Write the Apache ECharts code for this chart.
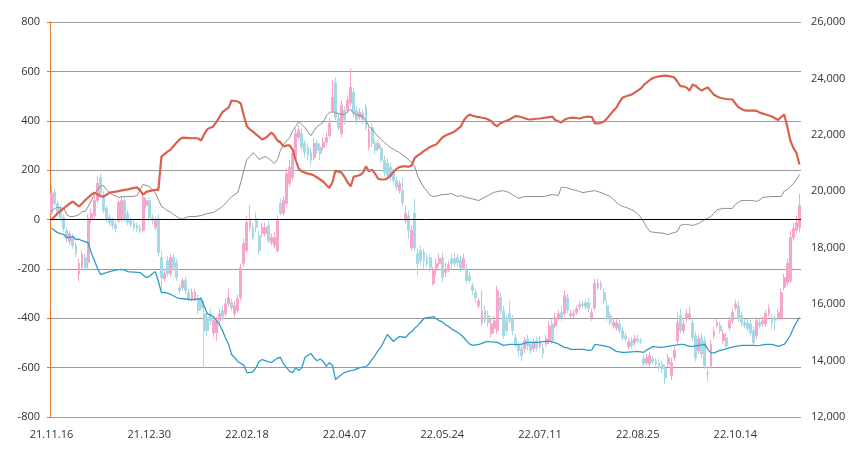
<!DOCTYPE html>
<html><head><meta charset="utf-8">
<script src="https://cdn.jsdelivr.net/npm/echarts@6/dist/echarts.min.js"></script>
<style>html,body{margin:0;padding:0;background:#fff}#c{width:862px;height:456px}</style>
</head><body><div id="c"></div>
<script>
// Korean market trading days 2021-11-16 .. 2022-11-14
const marketHolidays = ['2021-12-31','2022-01-31','2022-02-01','2022-02-02','2022-03-01','2022-03-09','2022-05-05','2022-06-01','2022-06-06','2022-08-15','2022-09-09','2022-09-12','2022-10-03','2022-10-10'];
const firstDay = [2021, 10, 16];
const lastDay = [2022, 10, 14];
function pad(n){return (n<10?'0':'')+n;}
function buildCategories(){
  const out=[];
  let t=Date.UTC(firstDay[0],firstDay[1],firstDay[2]);
  const end=Date.UTC(lastDay[0],lastDay[1],lastDay[2]);
  while(t<=end){
    const d=new Date(t);
    const wd=d.getUTCDay();
    const iso=d.getUTCFullYear()+'-'+pad(d.getUTCMonth()+1)+'-'+pad(d.getUTCDate());
    if(wd!==0&&wd!==6&&marketHolidays.indexOf(iso)<0){
      out.push(String(d.getUTCFullYear()).slice(2)+'.'+pad(d.getUTCMonth()+1)+'.'+pad(d.getUTCDate()));
    }
    t+=86400000;
  }
  return out;
}
const categories = buildCategories();

const redLine = [
0,12,25,35,45,55,65,73,62,53,
65,78,89,100,109,102,95,93,100,109,
111,113,115,118,120,122,125,128,130,118,
101,112,115,118,120,120,255,265,275,283,
298,312,325,332,331,330,329,330,328,320,
345,365,372,377,395,415,435,445,453,482,
480,478,470,420,377,365,356,345,335,324,
330,340,352,340,320,312,296,300,300,283,
240,205,195,190,186,183,178,170,162,154,
140,128,150,198,194,190,172,150,134,174,
176,180,190,215,195,202,185,165,162,162,
166,178,192,205,212,215,215,214,220,250,
260,268,278,285,294,300,304,318,332,340,
345,350,356,366,376,400,417,425,420,417,
415,412,410,405,399,385,378,390,395,400,
405,412,419,418,414,410,406,405,407,408,
409,411,413,415,417,403,398,393,404,409,
412,413,411,409,413,416,417,415,389,389,
392,397,410,425,440,453,475,493,498,502,
506,514,522,530,545,555,565,573,577,580,
582,583,582,579,575,559,540,539,535,522,
547,541,530,522,530,535,520,505,498,493,
490,488,487,486,470,455,448,442,441,441,
441,440,433,429,425,421,417,410,403,415,
425,378,320,290,270,223];

const grayLine = [
32,45,49,47,45,20,12,12,15,20,
32,32,53,75,101,120,134,138,120,109,
100,95,89,92,93,93,93,94,97,120,
142,138,134,120,109,80,53,45,35,30,
20,12,4,2,8,12,12,12,14,16,
20,24,26,28,36,44,53,65,80,93,
101,109,150,200,243,255,271,259,243,250,
255,248,238,227,243,280,304,318,332,360,
377,397,385,372,355,340,360,377,385,393,
420,433,437,433,429,427,425,438,446,429,
425,421,417,400,377,365,350,335,325,312,
302,292,285,278,271,262,252,243,230,215,
174,150,130,115,98,93,95,98,101,101,
103,105,99,93,97,93,89,86,83,80,
77,84,91,97,104,110,113,115,117,113,
109,100,93,85,90,93,93,93,93,93,
93,93,95,98,101,99,97,130,130,128,
124,120,117,113,109,111,113,115,117,113,
109,104,98,93,82,69,60,53,50,45,
40,33,22,10,-10,-32,-49,-51,-53,-54,
-55,-58,-61,-56,-53,-49,-24,-20,-20,-22,
-24,-20,-16,-8,0,6,12,25,40,42,
45,45,45,45,61,70,77,77,77,77,
76,73,80,89,91,92,93,93,93,93,
115,121,134,145,162,182];

const blueLine = [
-34,-45,-53,-57,-61,-73,-71,-69,-81,-80,
-86,-90,-95,-134,-165,-195,-223,-219,-215,-211,
-208,-205,-203,-202,-205,-211,-212,-213,-214,-215,
-225,-235,-231,-220,-211,-250,-296,-296,-298,-303,
-310,-316,-320,-321,-322,-324,-324,-324,-322,-320,
-350,-381,-387,-393,-410,-425,-450,-480,-505,-547,
-560,-575,-583,-590,-620,-620,-616,-600,-575,-567,
-572,-577,-579,-570,-562,-559,-585,-600,-615,-620,
-600,-612,-600,-560,-550,-543,-560,-572,-565,-575,
-595,-580,-590,-648,-638,-628,-620,-615,-612,-610,
-605,-600,-598,-596,-585,-567,-550,-530,-515,-490,
-466,-480,-494,-482,-474,-476,-478,-464,-454,-440,
-429,-415,-401,-398,-397,-393,-402,-410,-415,-425,
-433,-443,-450,-458,-466,-478,-492,-505,-510,-508,
-506,-502,-496,-494,-496,-497,-498,-504,-510,-508,
-506,-506,-507,-507,-505,-501,-498,-498,-498,-498,
-497,-495,-494,-494,-496,-500,-504,-512,-518,-520,
-526,-526,-526,-526,-526,-528,-530,-528,-506,-508,
-510,-512,-515,-518,-526,-534,-536,-538,-538,-537,
-536,-535,-534,-536,-538,-528,-522,-514,-516,-518,
-518,-516,-514,-512,-510,-508,-506,-506,-510,-514,
-514,-512,-510,-508,-506,-526,-540,-540,-535,-530,
-527,-524,-520,-517,-514,-512,-510,-510,-510,-510,
-510,-511,-510,-508,-506,-506,-506,-510,-514,-510,
-506,-490,-470,-440,-417,-397];

// [open, close, high, low]
const candleOCHL = [
[19210,19920,20210,19180],[19960,19570,20100,19460],[19570,19250,19670,19140],[19390,19070,19500,18960],[19070,18680,19180,18540],
[18610,18320,18720,18180],[18220,18500,18610,18110],[18390,18080,18500,17970],[18080,17790,18180,17680],[17080,17440,17610,16800],
[17290,17760,17900,17190],[17650,17290,17790,17190],[17470,19030,19180,17260],[19030,19210,19390,18890],[19140,19670,19820,19030],
[19670,20280,20560,19570],[20490,19920,20630,19820],[19850,19320,20030,19210],[19390,19030,19500,18890],[19070,18890,19180,18750],
[18960,18790,19070,18640],[18820,18680,18930,18540],[18960,19600,19740,18890],[19030,19670,19820,18930],[19670,19030,19780,18930],
[19210,18890,19350,18790],[18960,18820,19070,18720],[18890,18720,19000,18610],[18790,18680,18890,18540],[18720,18610,18820,18500],
[18610,19780,19890,18540],[19500,19670,19780,19390],[19670,19070,19780,18960],[19070,18960,19180,18820],[18720,18960,19110,18610],
[19030,17830,19180,17680],[17650,16940,17900,16480],[16900,17080,17260,16800],[17540,17080,17690,16970],[17080,17650,17790,16970],
[17650,17290,17790,17190],[17470,16940,17610,16830],[16580,16480,16730,16370],[16580,16830,16940,16480],[16830,16480,16970,16330],
[16410,16190,16550,16090],[16190,16410,16550,16090],[16190,16410,16550,16120],[16190,15770,16330,15660],[16120,15870,16260,15770],
[15660,15060,16120,13740],[15520,15060,15700,14880],[15660,15410,15840,15270],[14980,15410,15550,14840],[14980,15410,15550,14700],
[15410,15660,15840,15300],[15770,15550,15940,15410],[15660,16010,16190,15550],[16010,16230,16550,15910],[16050,15870,16190,15770],
[15660,15940,16120,15520],[15770,16190,16330,15700],[16230,17290,17440,16120],[17440,18150,18320,17330],[17900,18890,19140,17790],
[18720,18960,19500,18610],[18720,18360,18890,18250],[19030,18720,19250,18540],[18430,17900,18610,17760],[18500,18720,18890,18390],
[18500,18720,18890,18390],[18790,18250,18960,18150],[18180,18360,18500,18080],[18080,18360,18540,17970],[17900,18960,19140,17830],
[19570,19210,19740,19140],[19210,19670,19820,19140],[19570,20630,20810,19460],[20280,20850,21100,20170],[20490,21340,21520,20380],
[21200,22050,22230,21100],[21910,22160,22340,21810],[22050,21560,22230,21450],[21700,21380,21810,21200],[21560,21270,21700,21100],
[21380,21100,21520,20920],[21200,21700,21880,21100],[21700,21450,21810,21310],[21560,21340,21700,21100],[21560,21740,21910,21450],
[21740,21910,22090,21630],[21980,22410,22590,21880],[22870,23330,23940,22770],[23830,22620,24040,22520],[22590,22270,22770,22160],
[22050,23050,23230,21910],[22870,22520,23010,22370],[22870,23230,23400,22770],[23120,23690,24360,23010],[23510,22770,23650,22620],
[22870,22520,23010,22370],[22620,22800,22940,22520],[22770,22520,22870,22370],[22980,22270,23120,22160],[21560,22160,22300,21450],
[22270,21700,22410,21560],[21700,21450,21810,21310],[21520,21700,21810,21420],[21520,21100,21630,20990],[21100,20670,21270,20530],
[20990,20560,21170,20460],[20850,20490,21030,20380],[20670,20380,20810,20240],[20380,20140,20530,20030],[20030,20280,20380,19920],
[20030,19600,20460,19460],[18960,19210,19500,18860],[19140,18610,19320,18320],[18000,18610,18790,17900],[19210,18000,19740,17900],
[17790,17440,17970,17010],[17900,17540,18080,17400],[17830,17540,17970,17260],[17650,17440,17790,17330],[17650,17290,17760,17120],
[16730,17190,17330,16650],[17190,17440,17610,17010],[17440,17610,17790,17330],[17650,16940,17830,16760],[17120,17190,17470,16970],
[17190,17400,17540,17120],[17610,17440,17760,17260],[17610,17440,17830,17330],[17650,17470,17790,17330],[17540,17260,17720,17120],
[17290,17610,17790,17190],[17260,16830,17440,16730],[17010,16830,17120,16730],[16650,16480,16760,16330],[16410,16230,16550,16050],
[15940,16120,16230,15840],[15340,15770,16480,15230],[15770,15410,15940,15300],[15590,15340,15770,15200],[14950,15300,15480,14810],
[15130,15410,15590,14980],[15060,16480,16650,14950],[16230,15770,16410,15630],[15770,14880,15940,14770],[15410,15060,15590,14910],
[15660,15410,16120,15300],[15480,15060,15620,14910],[14810,14590,14950,14490],[14520,14350,14660,14130],[14420,14170,14590,13990],
[14420,14700,14840,14270],[14770,14520,14910,14350],[14590,14350,14700,14240],[14420,14630,14770,14310],[14700,14450,14840,14350],
[14520,14700,14840,14420],[14450,14240,14590,14100],[14590,14770,14910,14490],[14700,15230,15410,14590],[15300,14700,15480,14590],
[15230,15520,15700,15130],[15520,15660,15800,15410],[15700,15520,15940,15410],[15660,16300,16480,15550],[16230,15770,16370,15660],
[15590,15660,15800,15520],[15590,15660,15800,15520],[15700,15840,15940,15620],[15910,15980,16120,15800],[16010,15940,16120,15840],
[16050,15910,16160,15800],[16050,15840,16230,15700],[15520,15700,15840,15410],[15870,16730,16900,15770],[16580,16730,16900,16510],
[16730,16580,16830,16480],[16410,16120,16550,16010],[15940,15520,16120,15410],[15590,15340,15730,15230],[15230,15340,15480,15130],
[15160,15340,15480,15060],[15300,15060,15450,14950],[15060,14810,15200,14700],[14880,14770,14980,14670],[14490,14660,14810,14380],
[14700,14520,14840,14420],[14630,14770,14910,14520],[14770,14700,14910,14630],[14700,14660,14810,14590],[14060,13880,14170,13780],
[13920,14100,14240,13810],[13880,14170,14310,13780],[14060,13950,14170,13850],[13990,13880,14100,13780],[13920,13740,14060,13630],
[13850,13710,13990,13560],[13710,13390,13850,13170],[13880,14100,14240,13780],[13460,13920,14100,13310],[14100,14350,14490,13990],
[14700,15340,15700,14590],[15590,15060,15840,14950],[15060,15300,15450,14950],[15480,15660,15840,15370],[15520,15660,15910,15410],
[15340,14810,15520,14700],[14880,14100,15020,13960],[14350,14770,14910,14240],[14810,14240,14950,14100],[14700,13810,14840,13710],
[13560,13530,13810,13280],[13810,14590,14730,13710],[14880,15060,15200,14770],[15230,15340,15480,15130],[15230,15060,15370,14950],
[14700,14950,15090,14590],[14810,14520,14950,14420],[15160,15410,15550,15060],[15410,15700,15840,15300],[15870,16010,16160,15770],
[15940,15480,16120,15370],[15590,15340,15730,15230],[15340,15230,15480,15130],[15340,15130,15480,15020],[15300,14980,15450,14880],
[15060,14630,15200,14520],[14880,15410,15550,14770],[15340,15230,15480,15130],[15300,15410,15550,15200],[15300,15660,15800,15200],
[15660,15840,15980,15550],[15520,15340,15660,15130],[15480,15410,15590,15060],[15520,15700,15840,15410],[15520,16410,16550,15410],
[16580,16940,17080,16480],[16760,17440,17610,16650],[16830,18360,18610,16730],[18360,18680,18890,18250],[18610,18890,19140,18500],
[18720,19500,19920,18540]];

const leftTicks = {min:-800, max:800, step:200};
const rightTicks = {min:12000, max:26000, step:2000};

const chart = echarts.init(document.getElementById('c'), null, {renderer:'canvas'});
const font = 'Open Sans, Noto Sans, sans-serif';
chart.setOption({
  animation:false,
  backgroundColor:'#fff',
  textStyle:{fontFamily:font},
  grid:{left:50,right:61,top:22,bottom:39,containLabel:false},
  xAxis:{
    type:'category', data:categories, boundaryGap:true,
    axisLine:{lineStyle:{color:'#cfcfcf',width:1}},
    axisTick:{alignWithLabel:true, interval:31, length:5, lineStyle:{color:'#cfcfcf'}},
    axisLabel:{interval:31, color:'#333', fontSize:11, margin:12, fontFamily:font},
    splitLine:{show:false}
  },
  yAxis:[{
    type:'value', position:'left', min:leftTicks.min, max:leftTicks.max, interval:leftTicks.step,
    axisLine:{show:true, lineStyle:{color:'#E8792B',width:1}},
    axisTick:{show:true, length:3, lineStyle:{color:'#E8792B'}},
    axisLabel:{color:'#333', fontSize:11, margin:10, fontFamily:font},
    splitLine:{show:true, lineStyle:{color:'#9a9a9a',width:1}}
  },{
    type:'value', position:'right', min:rightTicks.min, max:rightTicks.max, interval:rightTicks.step,
    axisLine:{show:false}, axisTick:{show:false}, splitLine:{show:false},
    axisLabel:{color:'#333', fontSize:11, margin:10, fontFamily:font}
  }],
  series:[{
    type:'candlestick', yAxisIndex:1, barWidth:'78%',
    data: candleOCHL.map(d=>[d[0], d[1], d[3], d[2]]),
    itemStyle:{color:'#F5A6CA', color0:'#A6D8E6', borderColor:'#F5A6CA', borderColor0:'#A6D8E6', borderWidth:1}
  },{
    type:'line', yAxisIndex:0, data:grayLine, symbol:'none', smooth:false,
    lineStyle:{color:'#8d8d8d', width:1}
  },{
    type:'line', yAxisIndex:0, data:blueLine, symbol:'none',
    lineStyle:{color:'#2c9dc6', width:1.3}
  },{
    type:'line', yAxisIndex:0, data:redLine, symbol:'none',
    lineStyle:{color:'#DA6150', width:2.2},
    markLine:{silent:true, symbol:['none','none'], label:{show:false},
      lineStyle:{color:'#000', width:1, type:'solid'}, data:[{yAxis:0}]}
  }]
});
</script></body></html>
